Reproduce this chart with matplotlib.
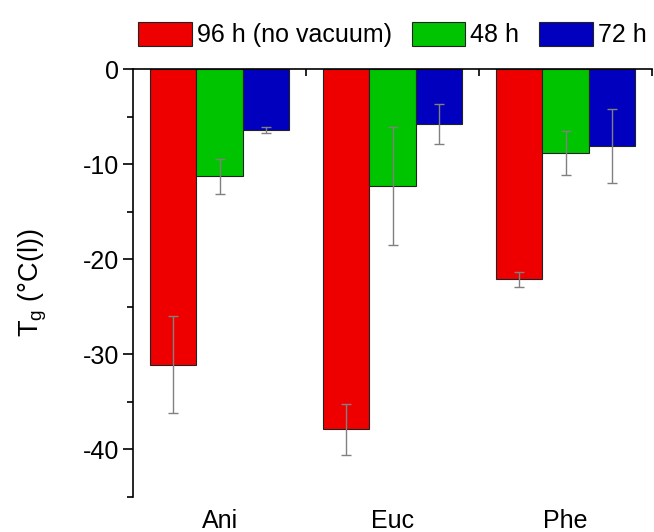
import numpy as np
import matplotlib
matplotlib.use("Agg")
import matplotlib.pyplot as plt
from matplotlib.ticker import MultipleLocator, FixedLocator

plt.rcParams['font.family'] = ['Liberation Sans', 'DejaVu Sans']
plt.rcParams['axes.unicode_minus'] = False

samples = ["Ani", "Euc", "Phe"]
series = ["96 h (no vacuum)", "48 h", "72 h"]
colors = ["#EE0000", "#00C400", "#0000BE"]

tg_96 = [-31.1, -37.9, -22.1]
tg_48 = [-11.3, -12.3, -8.8]
tg_72 = [-6.4, -5.8, -8.1]
err_96 = [5.1, 2.7, 0.8]
err_48 = [1.8, 6.2, 2.3]
err_72 = [0.3, 2.1, 3.9]

values = [tg_96, tg_48, tg_72]
errors = [err_96, err_48, err_72]

fig = plt.figure(figsize=(6.54, 5.32), dpi=100)
ax = fig.add_axes([0.2034, 0.0658, 0.7936, 0.8045])

x = np.arange(len(samples))
w = 0.8 / 3
for i in range(3):
    pos = x + (i - 1) * w
    ax.bar(pos, values[i], width=w, color=colors[i], edgecolor="#222222",
           linewidth=0.8, label=series[i], zorder=2)
    ax.errorbar(pos, values[i], yerr=errors[i], fmt="none", ecolor="#808080",
                elinewidth=1, capsize=3.5, capthick=1, zorder=3)

ax.set_xlim(-0.5, 2.5)
ax.set_ylim(-45, 0)

# y axis
ax.yaxis.set_major_locator(MultipleLocator(10))
ax.yaxis.set_minor_locator(MultipleLocator(5))
ax.tick_params(axis="y", which="major", direction="out", length=7, width=1.2,
               labelsize=18, pad=3)
ax.tick_params(axis="y", which="minor", direction="out", length=4, width=1.2)

# x axis: ticks on the zero line, labels at the bottom
ax.set_xticks(x)
ax.set_xticklabels(samples)
ax.xaxis.set_minor_locator(FixedLocator([0.5, 1.5, 2.5]))
ax.tick_params(axis="x", which="both", top=True, bottom=False, direction="in",
               labeltop=False, labelbottom=True, labelsize=18, width=1.2,
               pad=9)
ax.tick_params(axis="x", which="major", length=7)
ax.tick_params(axis="x", which="minor", length=5)

ax.spines["right"].set_visible(False)
ax.spines["bottom"].set_visible(False)
ax.spines["top"].set_linewidth(1.2)
ax.spines["left"].set_linewidth(1.2)

ax.set_ylabel("T$_\\mathregular{g}$ (°C(l))", fontsize=19.5, labelpad=24)

fig.legend(*ax.get_legend_handles_labels(), loc="center",
           bbox_to_anchor=(0.6, 0.935), bbox_transform=fig.transFigure,
           ncol=3, frameon=False, fontsize=18, handlelength=2.15,
           handleheight=1.1, handletextpad=0.2, columnspacing=0.8,
           borderaxespad=0, borderpad=0)

fig.savefig("out.png", dpi=100)
